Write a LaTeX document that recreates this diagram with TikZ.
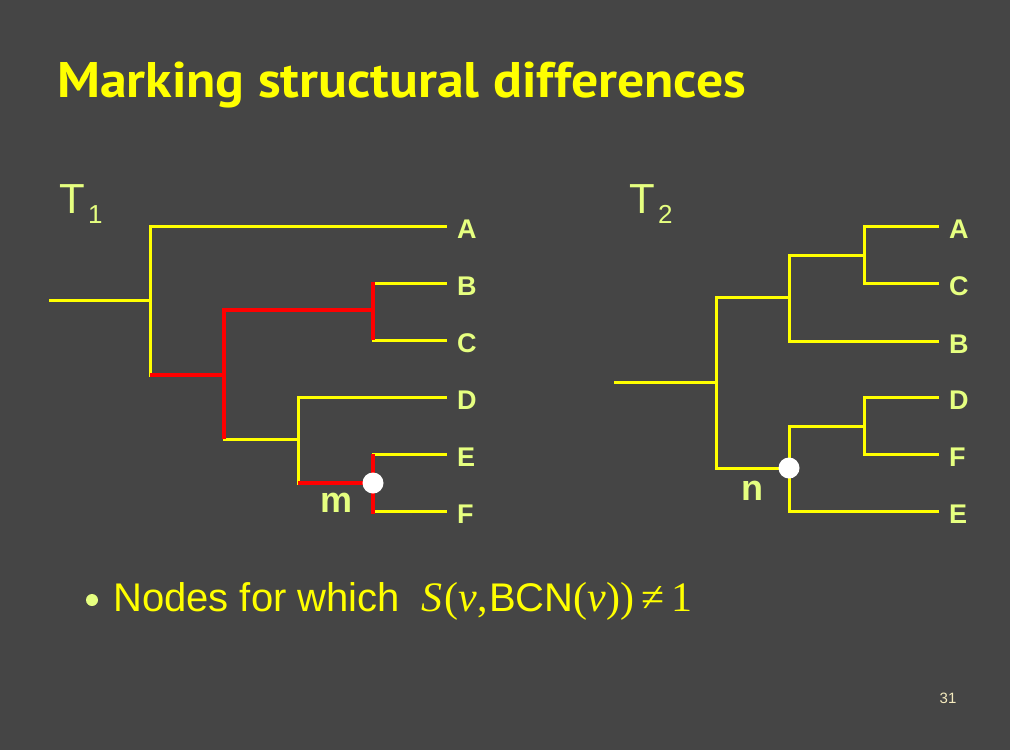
\documentclass[tikz,border=0pt]{standalone}
\usepackage{fontspec}
\setmainfont{Liberation Sans}
\newfontfamily\titlefont{PT Sans}
\newfontfamily\mathserif{Liberation Serif}
\usetikzlibrary{positioning}
\definecolor{slidebg}{RGB}{69,69,69}
\definecolor{treeyellow}{RGB}{255,255,0}
\definecolor{markred}{RGB}{255,0,0}
\definecolor{labelgreen}{RGB}{230,255,128}
\definecolor{pagecream}{RGB}{245,235,190}

\begin{document}
\begin{tikzpicture}[x=1pt, y=-1pt,
  branch/.style={treeyellow, line width=3pt},
  marked/.style={markred, line width=4.5pt},
  leaf/.style={anchor=west, inner xsep=10pt, inner ysep=0pt, text height=25pt, text depth=0pt,
    text=labelgreen, font=\fontsize{27}{27}\selectfont\bfseries},
  hit/.style={circle, fill=white, minimum size=21pt, inner sep=0pt},
  nodename/.style={text=labelgreen, font=\fontsize{36}{36}\selectfont\bfseries},
  treename/.style={anchor=base west, text=labelgreen, font=\fontsize{42}{42}\selectfont}]
  \fill[slidebg] (0,0) rectangle (1010,750);
  \useasboundingbox (0,0) rectangle (1010,750);

  % title
  \node[anchor=base west, inner sep=0pt, text=treeyellow,
    font=\titlefont\fontsize{50}{50}\selectfont\bfseries] (title) at (57,97)
    {\scalebox{1.075}[1]{Marking structural differences}};

  % T1
  \node[treename] (t1name) at (56,213) {T\hspace{3pt}\raisebox{-10pt}{\fontsize{26}{26}\selectfont 1}};
  \coordinate (t1s) at (49,300);
  \coordinate (t1u) at (150,300);
  \coordinate (t1v1) at (224,375);
  \coordinate (t1v2) at (373,310);
  \coordinate (t1v3) at (298,439);
  \coordinate (t1v4) at (373,483);
  \node[leaf] (t1A) at (447,226) {A};
  \node[leaf] (t1B) at (447,283) {B};
  \node[leaf] (t1C) at (447,340) {C};
  \node[leaf] (t1D) at (447,397) {D};
  \node[leaf] (t1E) at (447,454) {E};
  \node[leaf] (t1F) at (447,511) {F};
  \draw[branch] (t1s) -- (t1u);
  \draw[branch] (t1u) |- (t1A.west);
  \draw[branch] (t1u) |- (t1v1);
  \draw[branch] (t1v1) |- (t1v2);
  \draw[branch] (t1v1) |- (t1v3);
  \draw[branch] (t1v2) |- (t1B.west);
  \draw[branch] (t1v2) |- (t1C.west);
  \draw[branch] (t1v3) |- (t1D.west);
  \draw[branch] (t1v3) |- (t1v4);
  \draw[branch] (t1v4) |- (t1E.west);
  \draw[branch] (t1v4) |- (t1F.west);
  % red marks
  \draw[marked] (t1u |- t1v1) -- (t1v1);
  \draw[marked] (t1v1 |- t1v3) -- (t1v1 |- t1v2) -- (t1v2);
  \draw[marked] (t1v2 |- t1B.west) ++(0,-1) -- (t1v2 |- t1C.west);
  \draw[marked] (t1v3 |- t1v4) -- (t1v4);
  \draw[marked] (t1v4 |- t1E.west) -- (t1v4 |- t1F.west) -- ++(0,3);
  \node[hit] (m) at (t1v4) {};
  \node[nodename] (mlabel) at (337,503) {m};

  % T2
  \node[treename] (t2name) at (626,213) {T\hspace{3pt}\raisebox{-10pt}{\fontsize{26}{26}\selectfont 2}};
  \coordinate (t2s) at (614,382);
  \coordinate (t2u) at (716,382);
  \coordinate (t2v1) at (789,297);
  \coordinate (t2v2) at (864,255);
  \coordinate (t2n) at (789,468);
  \coordinate (t2v4) at (864,426);
  \node[leaf] (t2A) at (939,226) {A};
  \node[leaf] (t2C) at (939,283) {C};
  \node[leaf] (t2B) at (939,341) {B};
  \node[leaf] (t2D) at (939,397) {D};
  \node[leaf] (t2F) at (939,454) {F};
  \node[leaf] (t2E) at (939,511) {E};
  \draw[branch] (t2s) -- (t2u);
  \draw[branch] (t2u) |- (t2v1);
  \draw[branch] (t2u) |- (t2n);
  \draw[branch] (t2v1) |- (t2v2);
  \draw[branch] (t2v1) |- (t2B.west);
  \draw[branch] (t2v2) |- (t2A.west);
  \draw[branch] (t2v2) |- (t2C.west);
  \draw[branch] (t2n) |- (t2v4);
  \draw[branch] (t2n) |- (t2E.west);
  \draw[branch] (t2v4) |- (t2D.west);
  \draw[branch] (t2v4) |- (t2F.west);
  \node[hit] (n) at (t2n) {};
  \node[nodename] (nlabel) at (752,491) {n};

  % bullet
  \fill[labelgreen] (92,600) circle (6);
  \node[anchor=base west, inner sep=0pt, text=treeyellow, font=\fontsize{40}{40}\selectfont] (claim) at (113,611)
    {Nodes for which\hspace{22pt}{\mathserif\fontsize{42}{42}\selectfont\itshape S\hspace{2pt}\upshape(\itshape v\upshape,}\hspace{1pt}BCN{\mathserif\fontsize{42}{42}\selectfont(\itshape v\upshape))\hspace{7pt}≠\hspace{7pt}1}};

  \node[text=pagecream, font=\fontsize{15}{15}\selectfont] (page) at (948,698) {31};
\end{tikzpicture}
\end{document}
